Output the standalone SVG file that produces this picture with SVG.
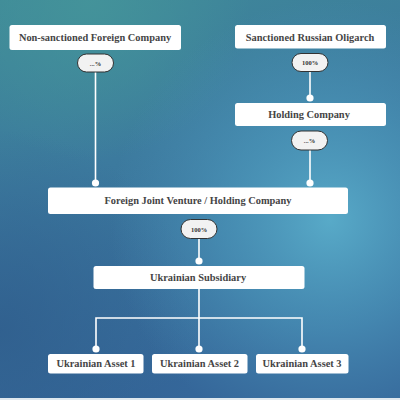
<svg xmlns="http://www.w3.org/2000/svg" width="400" height="400" viewBox="0 0 400 400">
<defs>
<linearGradient id="bg" x1="0" y1="0" x2="0.3" y2="1">
<stop offset="0" stop-color="#3f8a98"/>
<stop offset="0.45" stop-color="#3c7a9e"/>
<stop offset="1" stop-color="#35679a"/>
</linearGradient>
<radialGradient id="glow" cx="330" cy="220" r="220" gradientUnits="userSpaceOnUse">
<stop offset="0" stop-color="#58aac8" stop-opacity="1"/>
<stop offset="0.5" stop-color="#4d9abd" stop-opacity="0.6"/>
<stop offset="1" stop-color="#4a8fb5" stop-opacity="0"/>
</radialGradient>
<radialGradient id="glow2" cx="90" cy="0" r="160" gradientUnits="userSpaceOnUse">
<stop offset="0" stop-color="#44949a" stop-opacity="0.9"/>
<stop offset="1" stop-color="#44949a" stop-opacity="0"/>
</radialGradient>
<radialGradient id="dark" cx="0" cy="330" r="200" gradientUnits="userSpaceOnUse">
<stop offset="0" stop-color="#2f5d8c" stop-opacity="0.8"/>
<stop offset="1" stop-color="#2f5d8c" stop-opacity="0"/>
</radialGradient>
<style>
.box{fill:#ffffff;}
.pill{fill:#f2f2f2;stroke:#333;stroke-width:1;}
.t{font-family:"Liberation Serif","DejaVu Serif",serif;font-weight:bold;fill:#454545;text-anchor:middle;dominant-baseline:central;font-size:10.4px;}
.tp{font-family:"Liberation Serif","DejaVu Serif",serif;font-weight:bold;fill:#333;text-anchor:middle;dominant-baseline:central;font-size:6.5px;}
.ln{stroke:#ffffff;stroke-width:1.6;fill:none;}
.dot{fill:#ffffff;}
</style>
</defs>
<rect width="400" height="400" fill="url(#bg)"/>
<rect width="400" height="400" fill="url(#dark)"/>
<rect width="400" height="400" fill="url(#glow2)"/>
<rect width="400" height="400" fill="url(#glow)"/>
<rect x="0" y="398" width="400" height="2" fill="#dfe8ee"/>

<g id="connectors">
<path class="ln" d="M95.5 72 V183"/>
<path class="ln" d="M310 72 V98"/>
<path class="ln" d="M310 150 V183"/>
<path class="ln" d="M199 239 V261"/>
<path class="ln" d="M199 289 V349 M96 349 V318 H302 V349"/>
<circle class="dot" cx="95.5" cy="183" r="3.6"/>
<circle class="dot" cx="310" cy="98" r="3.6"/>
<circle class="dot" cx="310" cy="183" r="3.6"/>
<circle class="dot" cx="199" cy="261" r="3.6"/>
<circle class="dot" cx="96" cy="349" r="3.6"/>
<circle class="dot" cx="199" cy="349" r="3.6"/>
<circle class="dot" cx="302" cy="349" r="3.6"/>
<g id="pill1"><rect class="pill" x="77.5" y="54" width="36" height="18" rx="9"/><text class="tp" x="95.5" y="63">...%</text></g>
<g id="pill2"><rect class="pill" x="292" y="53.5" width="36" height="18" rx="9"/><text class="tp" x="310" y="62.5">100%</text></g>
<g id="pill3"><rect class="pill" x="291.5" y="131" width="36" height="19" rx="9.5"/><text class="tp" x="309.5" y="140.5">...%</text></g>
<g id="pill4"><rect class="pill" x="181" y="219.5" width="36" height="19" rx="9.5"/><text class="tp" x="199" y="229">100%</text></g>
</g>

<g id="n-nonsanctioned"><rect class="box" x="9.5" y="25" width="171.5" height="25" rx="2.5"/><text class="t" x="95" y="37">Non-sanctioned Foreign Company</text></g>
<g id="n-oligarch"><rect class="box" x="235" y="25" width="151" height="23.5" rx="2.5"/><text class="t" x="310" y="37.5">Sanctioned Russian Oligarch</text></g>
<g id="n-holding"><rect class="box" x="235" y="103" width="151" height="23" rx="2.5"/><text class="t" x="309" y="114.5">Holding Company</text></g>
<g id="n-fjv"><rect class="box" x="48" y="187.5" width="300" height="26.5" rx="2.5"/><text class="t" x="198" y="200.5">Foreign Joint Venture / Holding Company</text></g>
<g id="n-subsidiary"><rect class="box" x="93.5" y="266" width="211" height="23" rx="2.5"/><text class="t" x="198" y="277">Ukrainian Subsidiary</text></g>
<g id="n-asset1"><rect class="box" x="48" y="354" width="95.5" height="19.5" rx="2.5"/><text class="t" x="96" y="363.5">Ukrainian Asset 1</text></g>
<g id="n-asset2"><rect class="box" x="152" y="354" width="95.5" height="19.5" rx="2.5"/><text class="t" x="199.5" y="363.5">Ukrainian Asset 2</text></g>
<g id="n-asset3"><rect class="box" x="256" y="354" width="92.5" height="19.5" rx="2.5"/><text class="t" x="302" y="363.5">Ukrainian Asset 3</text></g>
</svg>
